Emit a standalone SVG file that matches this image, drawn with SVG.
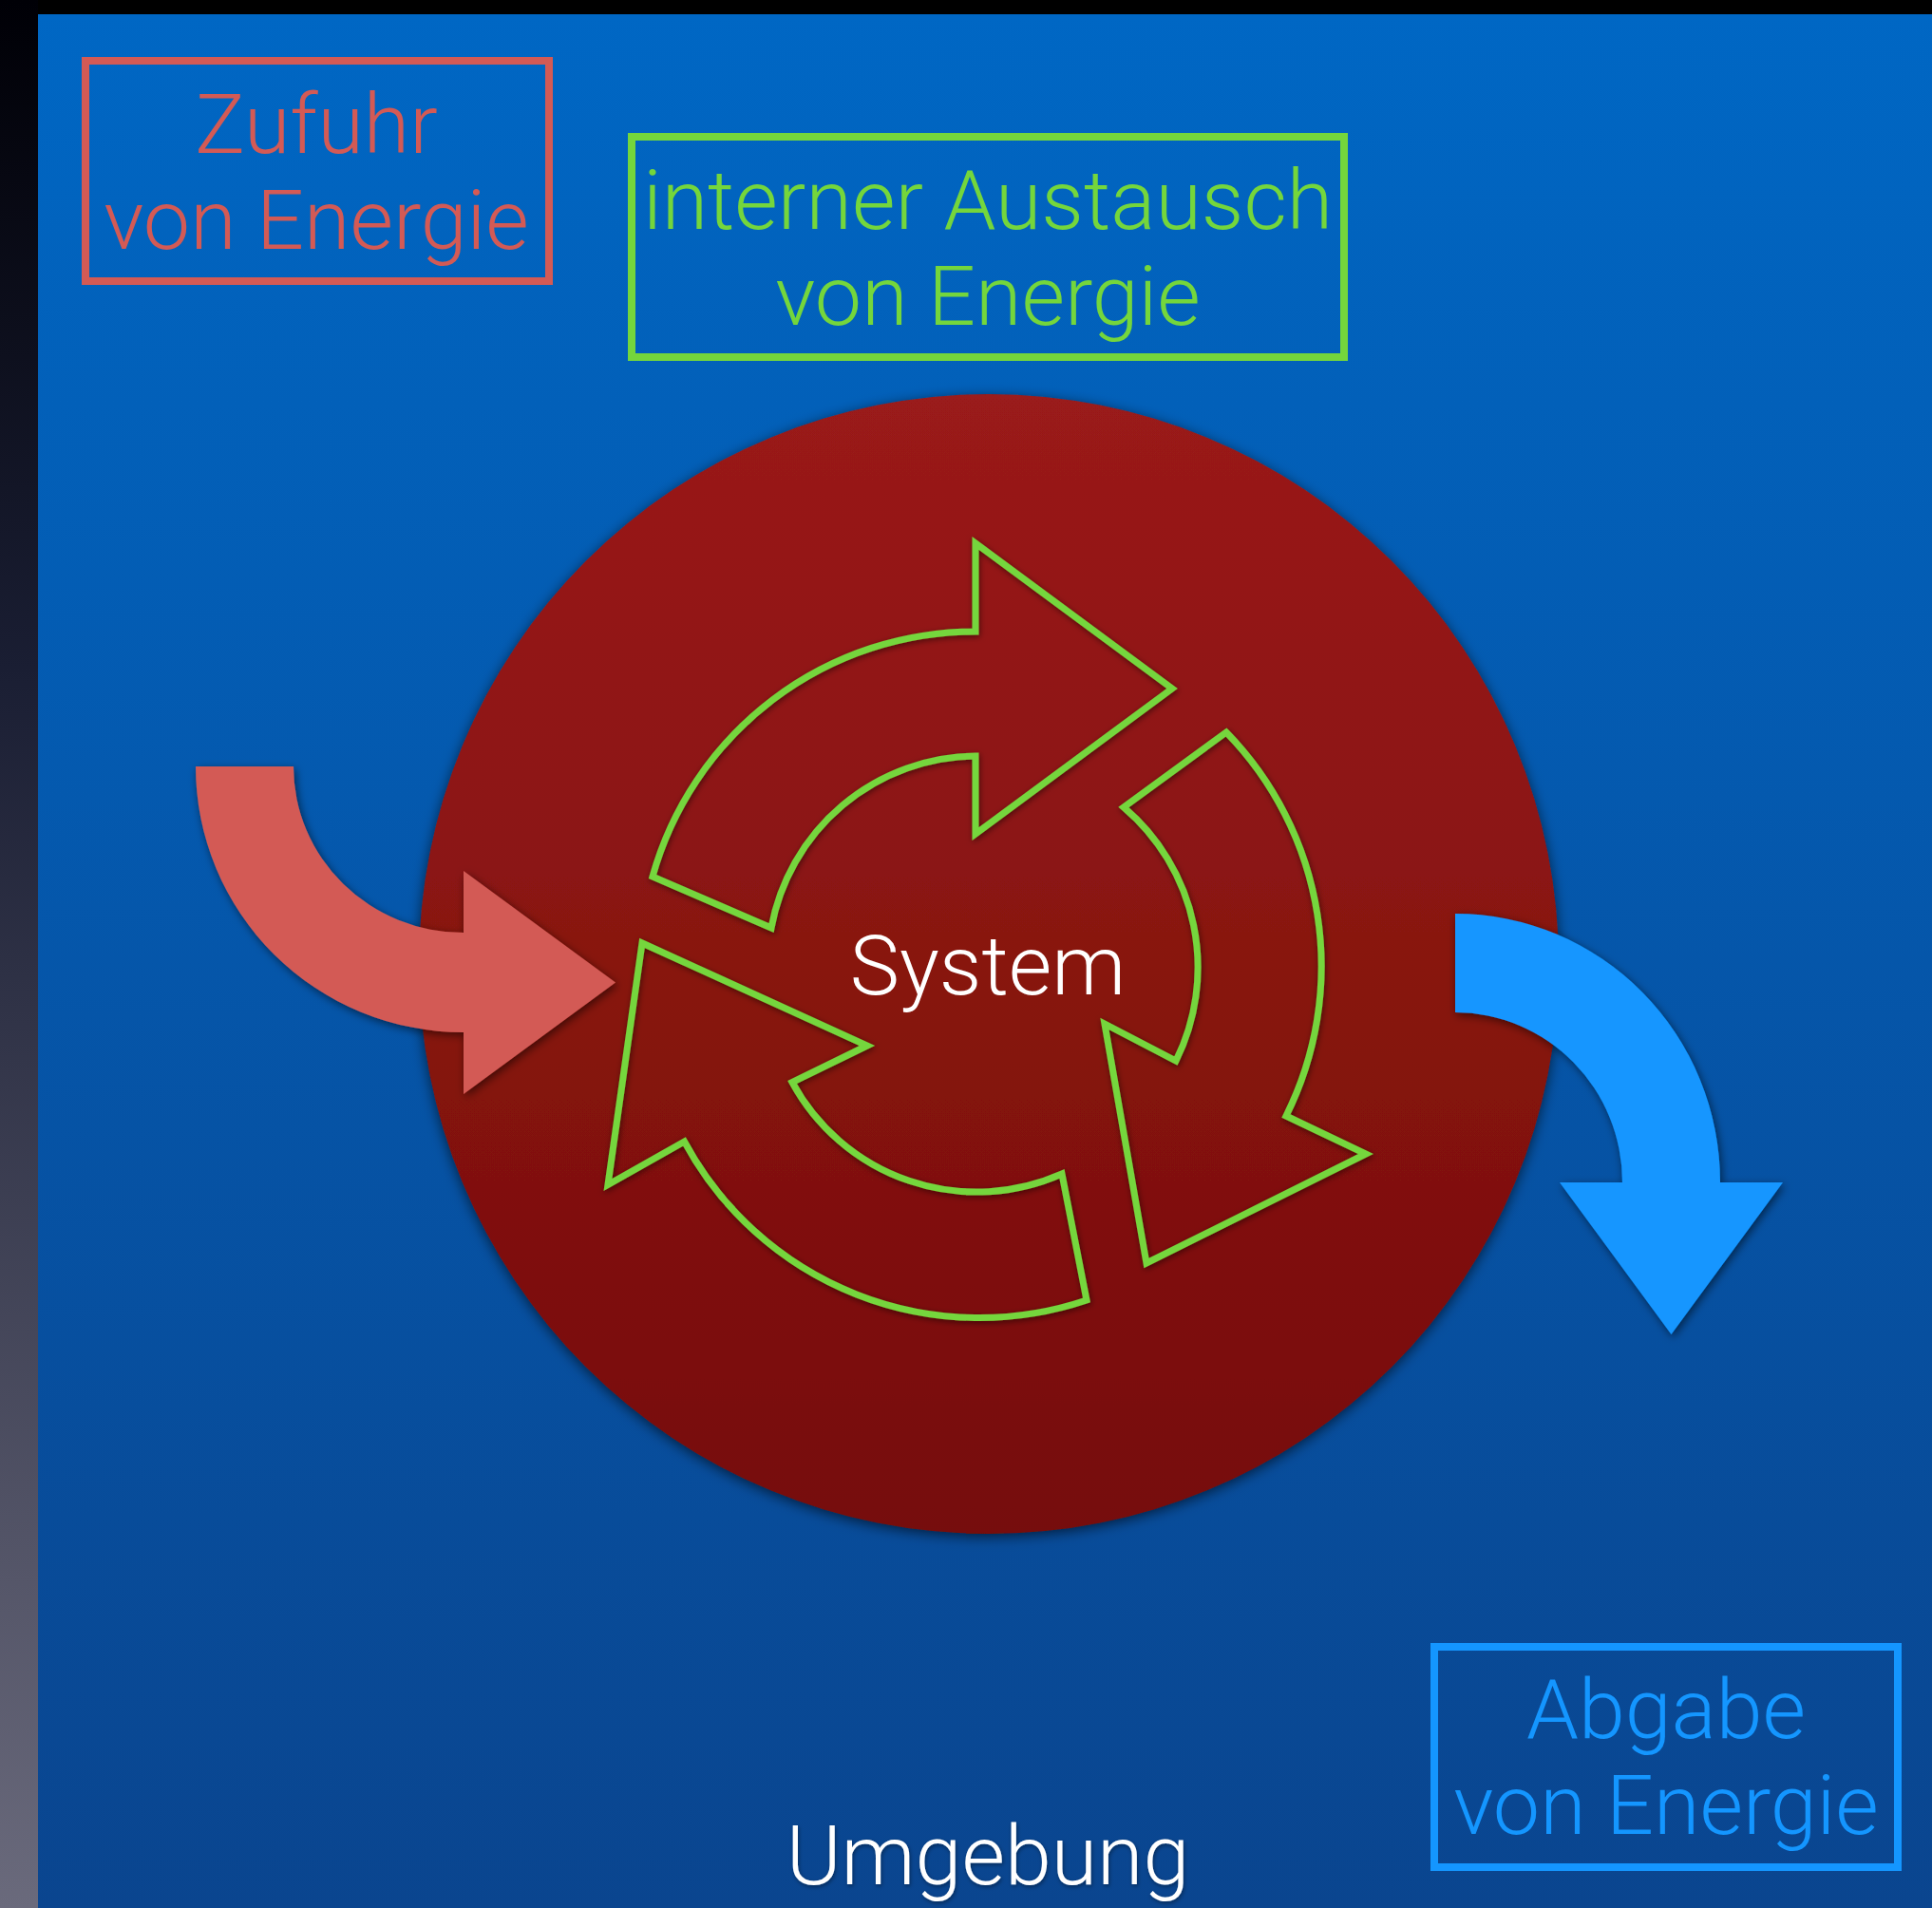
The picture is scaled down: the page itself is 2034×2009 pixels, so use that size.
<svg xmlns="http://www.w3.org/2000/svg" width="2034" height="2009" viewBox="0 0 2034 2009">
<defs>
<linearGradient id="side" x1="0" y1="0" x2="0" y2="1">
<stop offset="0" stop-color="#000006"/><stop offset="0.35" stop-color="#1a1e33"/><stop offset="1" stop-color="#6a6a7c"/>
</linearGradient>
<linearGradient id="bg" x1="0" y1="0" x2="0" y2="1">
<stop offset="0" stop-color="#0067c4"/><stop offset="1" stop-color="#0a458f"/>
</linearGradient>
<linearGradient id="sys" x1="0" y1="0" x2="0" y2="1">
<stop offset="0" stop-color="#9a1a1a"/><stop offset="1" stop-color="#760d07"/>
</linearGradient>
<filter id="sh" x="-20%" y="-20%" width="140%" height="140%">
<feDropShadow dx="0" dy="3" stdDeviation="7" flood-color="#000" flood-opacity="0.6"/>
</filter>
<filter id="ash" x="-20%" y="-20%" width="140%" height="140%">
<feDropShadow dx="2" dy="3" stdDeviation="5" flood-color="#000" flood-opacity="0.55"/>
</filter>
<filter id="gsh" x="-20%" y="-20%" width="140%" height="140%">
<feDropShadow dx="1" dy="2" stdDeviation="3" flood-color="#000" flood-opacity="0.5"/>
</filter>
<filter id="tsh" x="-10%" y="-20%" width="120%" height="140%">
<feDropShadow dx="1" dy="2" stdDeviation="2" flood-color="#000" flood-opacity="0.4"/>
</filter>
</defs>
<style>
.lbl{font-family:Roboto,"Liberation Sans",sans-serif;font-weight:300;font-size:88px;text-anchor:middle}
.box{fill:none;stroke-width:8}
.cyc{fill:none;stroke:#74d63c;stroke-width:7;stroke-linejoin:miter}
</style>
<rect x="0" y="0" width="2034" height="2009" fill="#000"/>
<rect x="0" y="0" width="40" height="2009" fill="url(#side)"/>
<rect x="40" y="15" width="1994" height="1994" fill="url(#bg)"/>

<g id="system">
<circle cx="1041" cy="1015" r="600" fill="url(#sys)" filter="url(#sh)"/>
<text class="lbl" x="1040" y="1047" fill="#fff">System</text>
</g>

<g id="zufuhr">
<rect class="box" x="90" y="64" width="488" height="232" stroke="#d35a55"/>
<text class="lbl" fill="#d35a55"><tspan x="333" y="161">Zufuhr</tspan><tspan x="333" y="262">von Energie</tspan></text>
</g>

<g id="intern">
<rect class="box" x="665" y="144" width="750" height="232" stroke="#74d63c"/>
<text class="lbl" fill="#74d63c"><tspan x="1040" y="241">interner Austausch</tspan><tspan x="1040" y="342">von Energie</tspan></text>
</g>

<g id="abgabe">
<rect class="box" x="1510" y="1734" width="488" height="232" stroke="#1496ff"/>
<text class="lbl" fill="#1496ff"><tspan x="1754" y="1830">Abgabe</tspan><tspan x="1754" y="1931">von Energie</tspan></text>
</g>

<g id="umgebung">
<text class="lbl" x="1040" y="1984" fill="#fff" filter="url(#tsh)">Umgebung</text>
</g>

<g id="connectors">
<path id="in-arrow" d="M206 807 A282 280 0 0 0 488 1087 L488 1152 L648 1034.5 L488 917 L488 982 A179 175 0 0 1 309 807 Z" fill="#d35a55" filter="url(#ash)"/>
<path id="out-arrow" d="M1532 962 A279 283 0 0 1 1811 1245 L1877 1245 L1759.5 1405 L1642 1245 L1708 1245 A176 179 0 0 0 1532 1066 Z" fill="#1496ff" filter="url(#ash)"/>
<g filter="url(#gsh)">
<path class="cyc" d="M687 923 A353 353 0 0 1 1027 665 L1027 572 L1234 725 L1027 878 L1027 796 A221 221 0 0 0 812 977 Z"/>
<path class="cyc" d="M1291 771 A353 353 0 0 1 1354 1175 L1438 1215 L1207 1330 L1163 1078 L1238 1117 A221 221 0 0 0 1183 850 Z"/>
<path class="cyc" d="M1144 1369 A353 353 0 0 1 720.5 1202 L640 1247.5 L676 993 L913 1101 L834 1139.5 A221 221 0 0 0 1118 1236 Z"/>
</g>
</g>
</svg>
